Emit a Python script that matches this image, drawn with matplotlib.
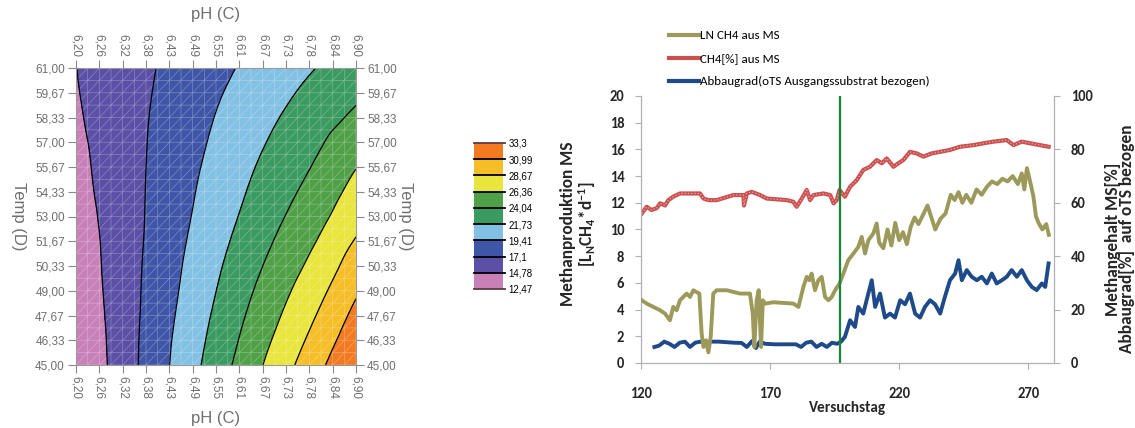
import numpy as np
import matplotlib
matplotlib.use("Agg")
import matplotlib.pyplot as plt
import matplotlib.tri as mtri
from matplotlib import font_manager
from matplotlib.colors import ListedColormap, BoundaryNorm
from matplotlib.cm import ScalarMappable
from matplotlib.lines import Line2D

# ---------------- data: contour (Design-Expert style) ----------------
ph_cols = [6.20, 6.30, 6.40, 6.50, 6.60, 6.70, 6.80, 6.90]
temp_rows = [45.00, 47.67, 50.33, 53.00, 55.67, 58.33, 61.00]
z_grid = [
    [12.47, 15.43, 18.40, 21.37, 24.34, 27.30, 30.27, 33.30],
    [12.89, 15.52, 18.15, 20.78, 23.41, 26.04, 28.67, 31.60],
    [13.31, 15.61, 17.91, 20.21, 22.51, 24.81, 27.11, 29.80],
    [13.71, 15.69, 17.67, 19.65, 21.63, 23.61, 25.59, 27.90],
    [14.14, 15.83, 17.52, 19.21, 20.90, 22.59, 24.28, 26.30],
    [14.51, 15.93, 17.35, 18.77, 20.19, 21.61, 23.03, 24.45],
    [14.75, 15.94, 17.10, 18.26, 19.42, 20.58, 21.74, 22.90],
]
levels = [12.47, 14.78, 17.1, 19.41, 21.73, 24.04, 26.36, 28.67, 30.99, 33.3]
level_labels = ['12,47', '14,78', '17,1', '19,41', '21,73', '24,04', '26,36', '28,67', '30,99', '33,3']
band_colors = ['#c880b9', '#5b4fa6', '#3f56a8', '#82c0e4', '#3a9a60',
               '#50a047', '#e8e53c', '#f5be27', '#f27b21']
ph_ticklabels = ['6,20', '6,26', '6,32', '6,38', '6,43', '6,49', '6,55',
                 '6,61', '6,67', '6,73', '6,78', '6,84', '6,90']
temp_ticklabels = ['45,00', '46,33', '47,67', '49,00', '50,33', '51,67', '53,00',
                   '54,33', '55,67', '57,00', '58,33', '59,67', '61,00']

# ---------------- data: time series ----------------
ln_day = [120.3, 122.2, 124.8, 127.4, 129.3, 131.2, 132.5, 133.8, 135.1, 136.4, 137.7, 139.0,
          140.3, 141.6, 142.6, 143.5, 144.2, 145.2, 146.1, 147.0, 148.0, 149.3, 153.2, 158.4,
          162.2, 163.3, 163.9, 164.8, 165.6, 166.5, 167.2, 168.1, 171.3, 179.0, 181.0, 182.9,
          184.2, 185.2, 186.1, 187.4, 188.7, 190.0, 191.3, 192.6, 193.9, 195.2, 196.9, 198.4,
          200.3, 202.3, 204.2, 205.5, 206.8, 208.1, 210.0, 211.3, 212.3, 213.9, 215.5, 217.0,
          218.5, 220.0, 221.5, 223.0, 224.5, 226.0, 227.5, 229.0, 231.0, 232.5, 234.0, 236.0,
          238.0, 240.0, 241.5, 243.0, 244.5, 246.0, 248.0, 250.0, 252.0, 254.0, 256.0, 258.0,
          260.0, 262.0, 264.0, 266.0, 267.5, 268.5, 269.5, 270.5, 272.0, 273.0, 274.0, 275.5,
          277.0, 278.0]
ln_val = [4.7, 4.45, 4.2, 3.95, 3.7, 3.2, 4.2, 3.95, 4.7, 4.95, 5.2, 4.95,
          5.45, 5.3, 5.2, 2.2, 1.2, 1.7, 0.8, 1.95, 5.2, 5.45, 5.45, 5.2,
          5.2, 3.7, 1.2, 4.7, 5.45, 1.2, 4.7, 4.45, 4.55, 4.45, 4.2, 5.7,
          6.45, 6.2, 6.7, 5.45, 6.2, 6.45, 4.95, 4.7, 4.95, 5.45, 5.95, 6.7,
          7.7, 8.2, 8.7, 9.45, 8.2, 9.2, 9.7, 10.45, 9.0, 8.6, 10.0, 8.8,
          10.5, 9.2, 9.8, 8.9, 10.2, 10.9, 10.4, 11.0, 11.8, 10.9, 10.0, 10.8,
          11.2, 12.6, 12.2, 12.8, 12.0, 12.6, 12.0, 13.0, 12.6, 13.2, 13.6, 13.4,
          13.8, 13.6, 14.0, 13.4, 14.2, 13.0, 14.6, 13.8, 12.5, 11.0, 10.5, 10.0,
          10.4, 9.6]

ch4_day = [120.3, 122.2, 124.1, 126.1, 127.4, 129.3, 130.6, 132.5, 135.1, 142.9, 144.2, 146.1,
           149.3, 155.8, 159.7, 159.9, 161.0, 162.9, 166.1, 168.7, 176.5, 179.0, 180.3, 182.3,
           184.2, 185.5, 186.8, 190.7, 193.3, 194.6, 195.8, 196.9, 199.0, 201.0, 203.6, 206.1,
           208.7, 211.3, 213.3, 215.2, 217.8, 219.7, 221.6, 224.2, 226.8, 229.4, 232.6, 235.9,
           239.7, 243.6, 248.8, 252.7, 256.5, 261.7, 264.3, 267.5, 270.7, 274.6, 277.9]
ch4_val = [56.0, 58.5, 57.3, 58.0, 59.8, 59.0, 61.0, 62.3, 63.5, 63.5, 61.6, 61.0,
           61.0, 62.9, 62.9, 59.0, 63.5, 64.1, 62.9, 61.6, 61.0, 60.4, 58.5, 61.6,
           64.8, 61.0, 62.9, 63.5, 62.9, 59.8, 61.0, 64.8, 62.3, 66.0, 68.5, 72.3,
           73.5, 76.0, 74.8, 76.6, 73.5, 74.8, 76.0, 79.1, 78.5, 77.3, 78.5, 79.1,
           79.8, 81.0, 81.6, 82.3, 82.9, 83.5, 81.6, 82.9, 82.3, 81.6, 81.0]

abb_day = [125.2, 127.0, 129.0, 131.0, 133.0, 135.0, 137.0, 139.0, 141.0, 143.0, 145.0, 147.0,
           150.0, 153.0, 156.0, 159.0, 161.0, 163.0, 164.5, 166.0, 168.0, 172.0, 176.0, 180.0,
           182.0, 184.0, 186.0, 188.0, 190.0, 192.0, 194.0, 196.0, 197.5, 199.0, 201.0, 202.9,
           204.2, 206.1, 207.4, 209.4, 210.7, 212.6, 214.5, 216.5, 218.4, 220.4, 222.3, 224.2,
           226.2, 228.1, 230.0, 232.0, 233.9, 235.9, 237.8, 239.7, 241.7, 243.0, 244.3, 246.2,
           248.1, 250.1, 252.0, 254.0, 255.9, 257.8, 259.8, 261.7, 263.6, 265.6, 267.5, 269.5,
           271.4, 273.3, 275.3, 276.6, 277.9]
abb_val = [6.0, 6.5, 8.0, 7.2, 6.0, 7.6, 8.0, 6.0, 7.6, 8.0, 7.5, 8.0,
           8.0, 7.8, 7.6, 7.5, 6.0, 8.2, 5.6, 8.0, 7.2, 7.0, 7.0, 7.0,
           6.0, 7.6, 8.0, 6.0, 7.2, 6.0, 7.6, 7.2, 8.0, 9.8, 16.0, 13.5,
           21.0, 18.5, 23.5, 31.0, 21.0, 26.0, 17.0, 18.5, 17.0, 23.5, 22.0, 26.0,
           18.5, 17.0, 21.0, 23.5, 22.0, 18.5, 25.0, 31.0, 33.5, 38.5, 31.0, 34.8,
           32.3, 31.0, 32.3, 29.8, 33.5, 29.8, 31.0, 32.3, 34.8, 32.3, 34.8, 31.0,
           28.5, 27.3, 29.8, 28.5, 37.3]

trial_start = 197

# ---------------- fonts ----------------
installed = {f.name for f in font_manager.fontManager.ttflist}
narrow = next((f for f in ['Carlito', 'Liberation Sans Narrow', 'Open Sans'] if f in installed), 'DejaVu Sans')
arial = 'Liberation Sans' if 'Liberation Sans' in installed else 'DejaVu Sans'
plt.rcParams['font.family'] = [arial, 'DejaVu Sans']
plt.rcParams['mathtext.fontset'] = 'custom'
plt.rcParams['mathtext.rm'] = narrow + ':bold'
plt.rcParams['mathtext.it'] = narrow + ':bold'

W, H = 1135, 428
fig = plt.figure(figsize=(W / 100, H / 100), dpi=100)

def px_axes(x0, y0, x1, y1):
    return fig.add_axes([x0 / W, 1 - y1 / H, (x1 - x0) / W, (y1 - y0) / H])

# ================= left: contour plot =================
gray = '#6f6f6f'
ax = px_axes(76, 68, 356, 365)

xx, yy = np.meshgrid(ph_cols, temp_rows)
xn = (xx - 6.2) / 0.7
yn = (yy - 45) / 16
tri_coarse = mtri.Triangulation(xn.ravel(), yn.ravel())
interp = mtri.CubicTriInterpolator(tri_coarse, np.array(z_grid).ravel(), kind='geom')
fx, fy = np.meshgrid(np.linspace(0, 1, 141), np.linspace(0, 1, 141))
fz = interp(fx, fy)

cmap = ListedColormap(band_colors)
cmap.set_under(band_colors[0])
cmap.set_over(band_colors[-1])
norm = BoundaryNorm(levels, cmap.N)
PH = 6.2 + fx * 0.7
TT = 45 + fy * 16
ax.contourf(PH, TT, fz, levels=levels, cmap=cmap, norm=norm, extend='both')
ax.contour(PH, TT, fz, levels=levels[1:-1], colors='k', linewidths=0.9)

# light mesh like the software draws: square cells split lower-left -> upper-right
n = 25
mx, my = np.meshgrid(np.linspace(6.2, 6.9, n), np.linspace(45, 61, n))
tris = []
for j in range(n - 1):
    for i in range(n - 1):
        a = j * n + i
        tris.append([a, a + 1, a + n + 1])
        tris.append([a, a + n + 1, a + n])
mesh = mtri.Triangulation(mx.ravel(), my.ravel(), tris)
ax.triplot(mesh, color='white', lw=0.5, alpha=0.3)

ax.set_xlim(6.2, 6.9)
ax.set_ylim(45, 61)
ax.set_xticks(np.linspace(6.2, 6.9, 13))
ax.set_xticklabels(ph_ticklabels)
ax.set_yticks(np.linspace(45, 61, 13))
ax.set_yticklabels(temp_ticklabels)
ax.tick_params(axis='both', which='both', top=True, labeltop=True, right=True, labelright=True,
               colors='#8a8a8a', labelcolor=gray, labelsize=8.5, length=6, width=0.8, pad=2)
ax.tick_params(axis='x', labelrotation=-90)
for s in ax.spines.values():
    s.set_color('#9a9a9a')
    s.set_linewidth(0.8)

fig.text(216 / W, 1 - 15 / H, 'pH (C)', ha='center', va='center', fontsize=12, color=gray)
fig.text(216 / W, 1 - 419 / H, 'pH (C)', ha='center', va='center', fontsize=12, color=gray)
fig.text(18 / W, 1 - 216 / H, 'Temp (D)', ha='center', va='center', fontsize=12, color=gray, rotation=-90)
fig.text(405 / W, 1 - 216 / H, 'Temp (D)', ha='center', va='center', fontsize=12, color=gray, rotation=-90)

# colour key
cax = px_axes(474, 143, 503, 289)
cb = fig.colorbar(ScalarMappable(norm=norm, cmap=cmap), cax=cax, ticks=levels)
cb.outline.set_visible(False)
cb.ax.set_yticklabels(level_labels)
cb.ax.tick_params(length=0, labelsize=7, pad=4, labelcolor='black')
for i, lv in enumerate(levels):
    end = i == 0 or i == len(levels) - 1
    cax.axhline(lv, xmin=0, xmax=1.06, color='#5a3a40' if end else 'black', lw=1.3, clip_on=False)

# ================= right: time series =================
ax2 = px_axes(641, 96, 1054, 363)
ax3 = ax2.twinx()

ax2.plot(ln_day, ln_val, color='#9d995a', lw=2.8, solid_joinstyle='round', zorder=3)
ax3.plot(ch4_day, ch4_val, color='#c9504f', lw=3.0, solid_joinstyle='round', zorder=2)
ax3.plot(ch4_day, ch4_val, color='#f0a6a4', lw=0.9, dashes=(1, 1.6), zorder=2)
ax3.plot(abb_day, abb_val, color='#1f4a8a', lw=2.8, solid_joinstyle='round', zorder=2)
ax2.axvline(trial_start, color='#17863c', lw=1.6, zorder=4)
ax2.set_zorder(ax3.get_zorder() + 1)
ax2.patch.set_visible(False)

ax2.set_xlim(120, 280)
ax2.set_ylim(0, 20)
ax3.set_ylim(0, 100)
ax2.set_xticks([120, 170, 220, 270])
ax2.set_yticks(range(0, 21, 2))
ax3.set_yticks(range(0, 101, 20))

tick_font = dict(family=[narrow, 'DejaVu Sans'], weight='bold', size=10.5)
for a in (ax2, ax3):
    for s in a.spines.values():
        s.set_visible(False)
ax2.spines['left'].set_visible(True)
ax2.spines['bottom'].set_visible(True)
ax3.spines['right'].set_visible(True)
for s in (ax2.spines['left'], ax2.spines['bottom'], ax3.spines['right']):
    s.set_color('#b0b0b0')
    s.set_linewidth(0.9)
ax2.tick_params(axis='x', colors='#b0b0b0', labelcolor='#262626', length=4, pad=13)
ax2.tick_params(axis='y', colors='#b0b0b0', labelcolor='#262626', length=4, pad=8)
ax3.tick_params(axis='y', colors='#b0b0b0', labelcolor='#262626', length=4, pad=8)
for lab in ax2.get_xticklabels() + ax2.get_yticklabels() + ax3.get_yticklabels():
    lab.set_fontproperties(font_manager.FontProperties(**tick_font))

label_font = dict(fontfamily=[narrow, 'DejaVu Sans'], fontweight='bold', color='#262626')
ax2.set_xlabel('Versuchstag', fontsize=11, labelpad=0, **label_font)
fig.text(579 / W, 1 - 224 / H, 'Methanproduktion MS\n' + r'[L$_N$CH$_4$*d$^{-1}$]',
         rotation=90, ha='center', va='center', multialignment='center',
         fontsize=12.5, linespacing=1.0, **label_font)
fig.text(1120 / W, 1 - 239 / H, 'Methangehalt MS[%]\nAbbaugrad[%]  auf oTS bezogen',
         rotation=90, ha='center', va='center', multialignment='center',
         fontsize=12.5, linespacing=0.92, **label_font)

handles = [Line2D([], [], color='#9d995a', lw=3),
           Line2D([], [], color='#c9504f', lw=3),
           Line2D([], [], color='#1f4a8a', lw=3)]
names = ['LN CH4 aus MS', 'CH4[%] aus MS', 'Abbaugrad(oTS Ausgangssubstrat bezogen)']
fig.legend(handles, names, loc='upper left', bbox_to_anchor=(669 / W, 1 - 30 / H),
           frameon=False, handlelength=2.3, handletextpad=0.1, borderaxespad=0, borderpad=0,
           labelspacing=0.92, prop=dict(family=[narrow, 'DejaVu Sans'], size=9.4))

fig.savefig('out.png', dpi=100)
